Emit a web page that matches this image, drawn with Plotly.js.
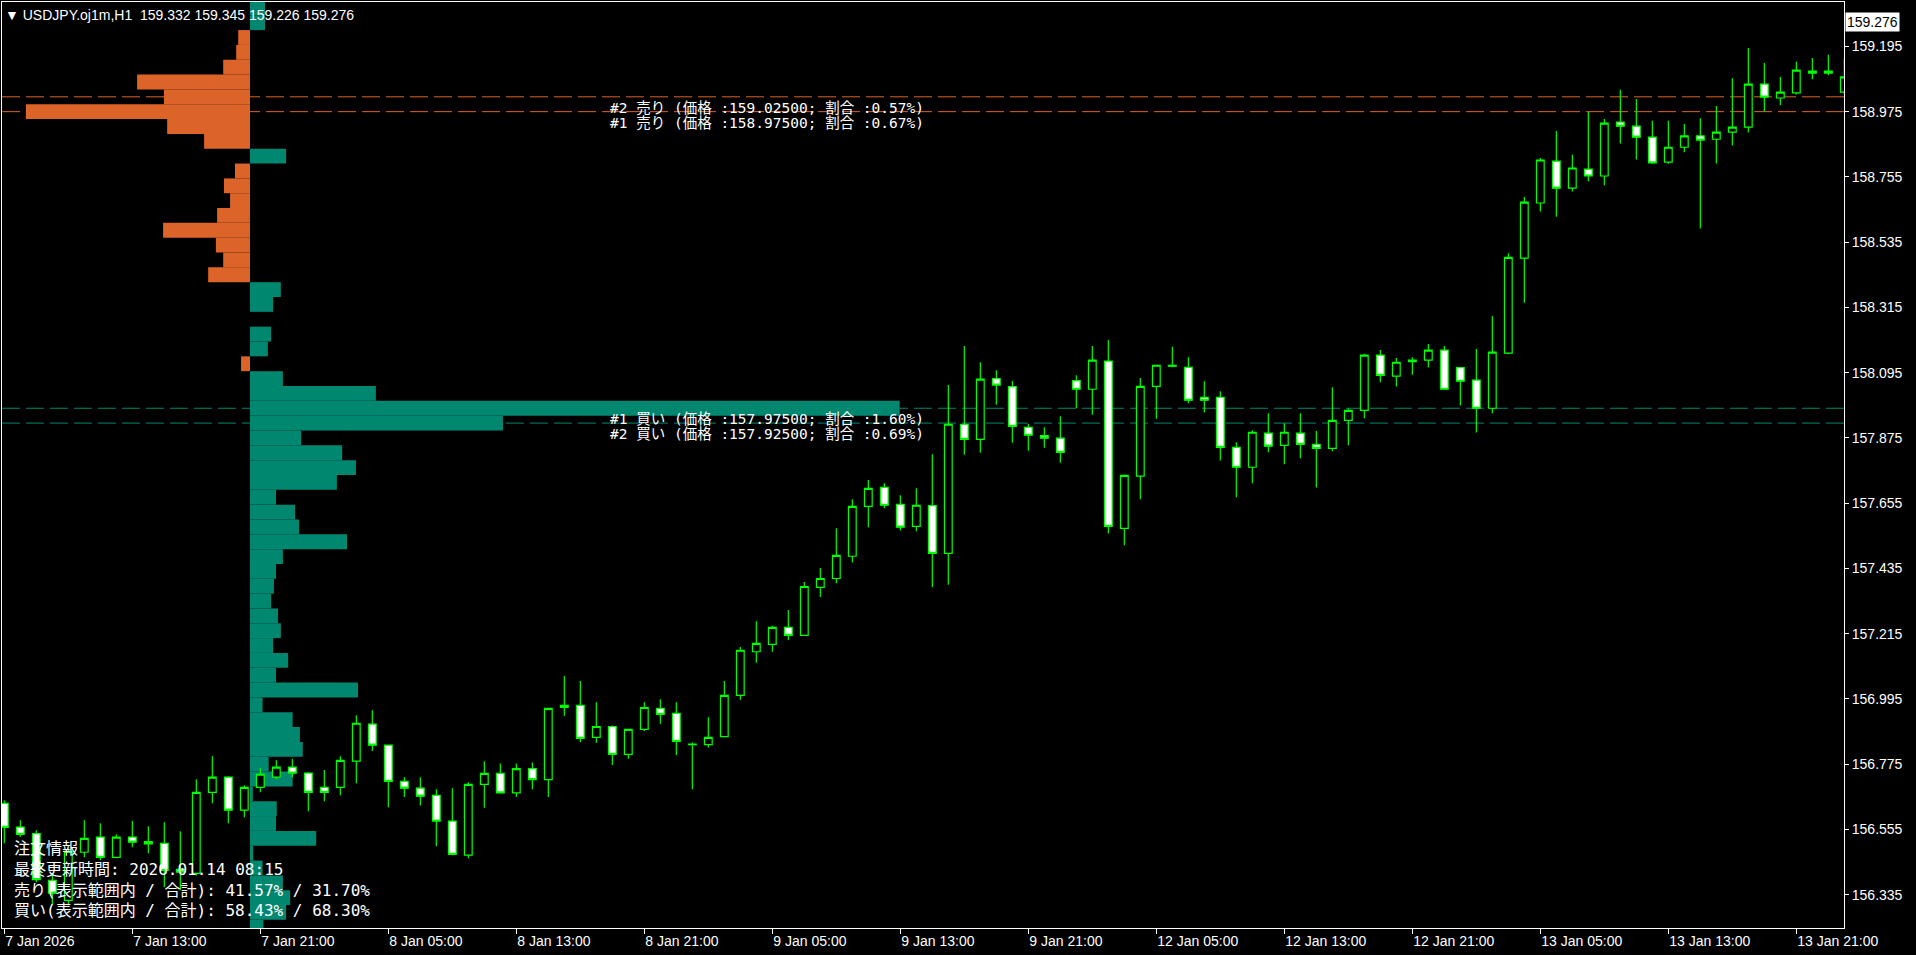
<!DOCTYPE html>
<html>
<head>
<meta charset="utf-8">
<script src="https://cdn.plot.ly/plotly-3.0.1.min.js"></script>
<style>
html,body{margin:0;padding:0;background:#000;}
#chart{width:1916px;height:955px;}
</style>
</head>
<body>
<div id="chart"></div>
<script>
// ---- Candles (H1 bars, index 0 = 7 Jan 05:00) ----
const barOpen = [156.643,156.563,156.541,156.383,156.316,156.478,156.529,156.461,156.529,156.514,156.508,156.420,156.407,156.680,156.731,156.620,156.697,156.731,156.765,156.745,156.697,156.697,156.785,156.910,156.839,156.717,156.694,156.670,156.583,156.468,156.707,156.744,156.678,156.760,156.723,156.966,156.973,156.865,156.902,156.808,156.892,156.963,156.946,156.843,156.841,156.868,157.007,157.154,157.179,157.236,157.209,157.371,157.401,157.476,157.644,157.708,157.651,157.577,157.647,157.486,157.921,157.870,158.075,158.048,157.911,157.883,157.874,158.068,158.039,158.134,157.570,157.746,158.049,158.120,158.113,158.012,158.012,157.843,157.776,157.891,157.850,157.891,157.853,157.840,157.934,157.968,158.154,158.083,158.137,158.137,158.171,158.112,158.070,157.975,158.161,158.481,158.667,158.808,158.717,158.781,158.758,158.940,158.926,158.889,158.805,158.855,158.893,158.882,158.906,158.923,159.068,159.021,159.038,159.112,159.112,159.041];
const barHigh = [156.653,156.586,156.552,156.407,156.491,156.586,156.576,156.539,156.583,156.566,156.579,156.549,156.724,156.802,156.734,156.704,156.761,156.788,156.792,156.748,156.755,156.802,156.940,156.957,156.839,156.731,156.731,156.690,156.694,156.714,156.785,156.777,156.777,156.781,156.965,157.072,157.055,156.984,156.905,156.892,156.984,156.994,156.984,156.848,156.933,157.055,157.170,157.257,157.242,157.295,157.389,157.436,157.570,157.668,157.733,157.722,157.682,157.705,157.820,158.053,158.185,158.130,158.103,158.067,157.922,157.911,157.948,158.086,158.185,158.205,157.752,158.077,158.121,158.182,158.147,158.066,158.032,157.860,157.901,157.958,157.924,157.958,157.898,158.046,157.974,158.158,158.171,158.144,158.147,158.192,158.185,158.112,158.175,158.286,158.498,158.687,158.819,158.910,158.830,158.974,158.950,159.049,159.018,158.944,158.944,158.933,158.953,158.994,159.088,159.190,159.139,159.092,159.143,159.156,159.167,159.153];
const barLow = [156.508,156.530,156.377,156.299,156.299,156.461,156.451,156.458,156.495,156.475,156.360,156.350,156.400,156.643,156.576,156.596,156.680,156.724,156.731,156.616,156.650,156.670,156.711,156.819,156.630,156.664,156.636,156.498,156.468,156.458,156.628,156.676,156.664,156.690,156.664,156.938,156.850,156.847,156.772,156.793,156.887,156.911,156.806,156.690,156.831,156.866,156.992,157.117,157.154,157.194,157.208,157.339,157.385,157.455,157.574,157.638,157.563,157.560,157.372,157.380,157.818,157.825,157.987,157.859,157.832,157.842,157.791,157.975,157.953,157.553,157.513,157.668,157.940,158.113,157.992,157.961,157.799,157.675,157.722,157.827,157.786,157.806,157.708,157.830,157.850,157.941,158.063,158.048,158.088,158.112,158.038,157.984,157.893,157.958,158.157,158.331,158.638,158.621,158.706,158.740,158.727,158.868,158.814,158.799,158.799,158.838,158.581,158.800,158.861,158.905,158.975,158.997,159.033,159.084,159.098,159.035];
const barClose = [156.562,156.538,156.386,156.340,156.481,156.525,156.461,156.529,156.512,156.506,156.417,156.411,156.680,156.731,156.620,156.697,156.741,156.765,156.745,156.680,156.680,156.788,156.913,156.839,156.717,156.694,156.667,156.583,156.471,156.707,156.744,156.678,156.760,156.723,156.963,156.973,156.862,156.902,156.808,156.892,156.966,156.943,156.852,156.841,156.865,157.007,157.159,157.182,157.236,157.209,157.374,157.401,157.479,157.644,157.705,157.648,157.574,157.648,157.486,157.921,157.870,158.073,158.053,157.914,157.884,157.874,157.826,158.039,158.137,157.577,157.749,158.049,158.120,158.117,158.002,158.002,157.843,157.776,157.894,157.847,157.894,157.853,157.840,157.934,157.968,158.154,158.086,158.130,158.132,158.171,158.039,158.066,157.975,158.164,158.484,158.670,158.812,158.717,158.785,158.758,158.936,158.926,158.889,158.802,158.855,158.893,158.879,158.906,158.923,159.068,159.024,159.041,159.115,159.105,159.105,159.092];

// ---- Time axis labels (one every 8 bars) ----
const timeTickLabels = ['7 Jan 2026','7 Jan 13:00','7 Jan 21:00','8 Jan 05:00','8 Jan 13:00','8 Jan 21:00','9 Jan 05:00','9 Jan 13:00','9 Jan 21:00','12 Jan 05:00','12 Jan 13:00','12 Jan 21:00','13 Jan 05:00','13 Jan 13:00','13 Jan 21:00'];
const barsPerTick = 8;

// ---- Price axis labels ----
const priceTicks = [156.335,156.555,156.775,156.995,157.215,157.435,157.655,157.875,158.095,158.315,158.535,158.755,158.975,159.195];

// ---- Order book histogram (bin centres, sell / buy share) ----
const histPrice = [159.325,159.275,159.225,159.175,159.125,159.075,159.025,158.975,158.925,158.875,158.825,158.775,158.725,158.675,158.625,158.575,158.525,158.475,158.425,158.375,158.325,158.275,158.225,158.175,158.125,158.075,158.025,157.975,157.925,157.875,157.825,157.775,157.725,157.675,157.625,157.575,157.525,157.475,157.425,157.375,157.325,157.275,157.225,157.175,157.125,157.075,157.025,156.975,156.925,156.875,156.825,156.775,156.725,156.675,156.625,156.575,156.525,156.475,156.425,156.375,156.325,156.275,156.225];
const sellShare = [0,0,0.029,0.034,0.066,0.278,0.212,0.552,0.204,0.113,0,0.037,0.064,0.049,0.081,0.214,0.084,0.066,0.103,0,0,0,0,0,0.022,0,0,0,0,0,0,0,0,0,0,0,0,0,0,0,0,0,0,0,0,0,0,0,0,0,0,0,0,0,0,0,0,0,0,0,0,0,0];
const buyShare = [0.037,0.037,0,0,0,0,0,0,0,0,0.089,0,0,0,0,0,0,0,0,0.076,0.057,0,0.052,0.044,0,0.081,0.310,1.600,0.623,0.126,0.227,0.261,0.214,0.064,0.111,0.121,0.239,0.081,0.064,0.059,0.052,0.069,0.076,0.057,0.094,0.064,0.266,0.031,0.105,0.123,0.130,0.046,0.105,0.007,0.066,0.064,0.163,0.008,0.031,0.081,0.099,0.089,0.033];

// ---- Top order levels ----
const orderSide = ['売り','売り','買い','買い'];
const orderRank = [2,1,1,2];
const orderPrice = [159.025,158.975,157.975,157.925];
const orderPct = [0.57,0.67,1.60,0.69];
const orderLabelBar = 37.7;

// ---- Header / info ----
const symbolName = 'USDJPY.oj1m,H1';
const headerOHLC = ['159.332','159.345','159.226','159.276'];
const lastPrice = '159.276';
const infoLines = ['注文情報','最終更新時間: 2026.01.14 08:15','売り(表示範囲内 / 合計): 41.57% / 31.70%','買い(表示範囲内 / 合計): 58.43% / 68.30%'];

const ORANGE = '#DD6429';
const TEAL = '#008770';
const LIME = '#00FF00';
const AXFONT = {family:'Liberation Sans, Arial, sans-serif', size:14, color:'#FFFFFF'};
const JPFONT = 'DejaVu Sans Mono, Noto Sans CJK JP, monospace';

const barIndex = barOpen.map((_, i) => i);

const traces = [
  {type:'bar', orientation:'h', y:histPrice, x:sellShare.map(v => -v), width:0.05,
   xaxis:'x', yaxis:'y', marker:{color:ORANGE, line:{width:0}}, hoverinfo:'skip'},
  {type:'bar', orientation:'h', y:histPrice, x:buyShare, width:0.05,
   xaxis:'x', yaxis:'y', marker:{color:TEAL, line:{width:0}}, hoverinfo:'skip'},
  {type:'candlestick', x:barIndex, open:barOpen, high:barHigh, low:barLow, close:barClose,
   xaxis:'x2', yaxis:'y', whiskerwidth:0,
   increasing:{line:{color:LIME, width:1.2}, fillcolor:'#000000'},
   decreasing:{line:{color:LIME, width:1.2}, fillcolor:'#FFFFFF'},
   hoverinfo:'skip'}
];

const shapes = orderPrice.map((p, k) => ({
  type:'line', xref:'paper', x0:0, x1:1, yref:'y', y0:p, y1:p, layer:'below',
  line:{color: orderSide[k] === '売り' ? ORANGE : TEAL, width:1, dash:'18px,6px'}
}));

const annotations = orderPrice.map((p, k) => ({
  xref:'x2', x:orderLabelBar, yref:'y', y:p, xanchor:'left', yanchor:'top', yshift:-1,
  showarrow:false, align:'left',
  text:'#' + orderRank[k] + ' ' + orderSide[k] + ' (価格 :' + p.toFixed(5) + '; 割合 :' + orderPct[k].toFixed(2) + '%)',
  font:{family:JPFONT, size:14.5, color:'#FFFFFF'}
}));

annotations.push({
  xref:'paper', x:0, xanchor:'left', xshift:1, yref:'paper', y:1, yanchor:'top', yshift:-3,
  showarrow:false, align:'left',
  text:'\u25BC\u00A0' + symbolName + '\u00A0\u00A0' + headerOHLC.join(' '),
  font:AXFONT
});
annotations.push({
  xref:'paper', x:1, xanchor:'left', xshift:1, yref:'y', y:parseFloat(lastPrice), yanchor:'middle',
  showarrow:false, text:lastPrice, bgcolor:'#FFFFFF', borderpad:1,
  font:{family:'Liberation Sans, Arial, sans-serif', size:14, color:'#000000'}
});
annotations.push({
  xref:'paper', x:0, xanchor:'left', xshift:10, yref:'paper', y:0, yanchor:'bottom', yshift:6,
  showarrow:false, align:'left', text:infoLines.join('<br>'),
  font:{family:JPFONT, size:16, color:'#FFFFFF'}
});

const layout = {
  width:1916, height:955,
  paper_bgcolor:'#000000', plot_bgcolor:'#000000',
  margin:{l:2, r:72, t:2, b:27},
  showlegend:false, barmode:'overlay', boxgap:0.31,
  xaxis:{range:[-0.6108, 3.926], visible:false, fixedrange:true, rangeslider:{visible:false}},
  xaxis2:{overlaying:'x', anchor:'y', side:'bottom', range:[-0.144, 114.98],
    tickmode:'array', tickvals:timeTickLabels.map((_, k) => k * barsPerTick), ticktext:timeTickLabels,
    ticks:'outside', ticklen:5, tickcolor:'#FFFFFF', tickwidth:1,
    ticklabelposition:'outside right',
    showline:true, linecolor:'#FFFFFF', linewidth:1, mirror:true,
    showgrid:false, zeroline:false, tickfont:AXFONT, rangeslider:{visible:false}},
  yaxis:{side:'right', range:[156.2226, 159.3447],
    tickmode:'array', tickvals:priceTicks, ticktext:priceTicks.map(v => v.toFixed(3)),
    ticks:'outside', ticklen:4, tickcolor:'#FFFFFF', tickwidth:1,
    showline:true, linecolor:'#FFFFFF', linewidth:1, mirror:true,
    showgrid:false, zeroline:false, tickfont:AXFONT},
  shapes:shapes,
  annotations:annotations
};

Plotly.newPlot('chart', traces, layout, {displayModeBar:false, staticPlot:true});
</script>
</body>
</html>
